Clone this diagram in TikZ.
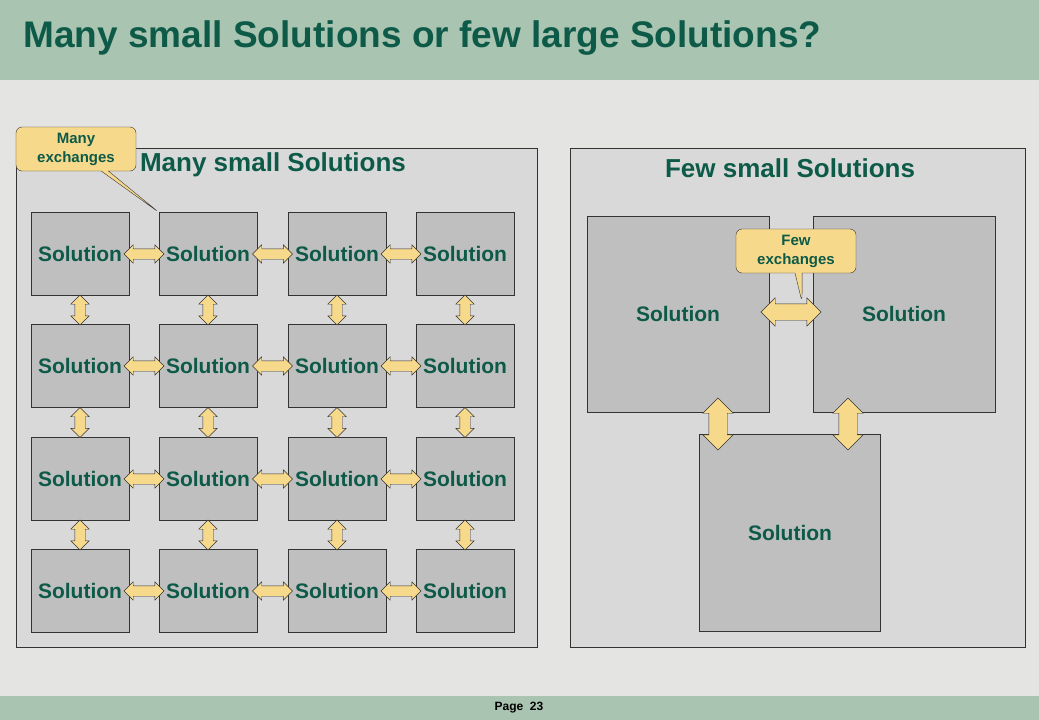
\documentclass[tikz,border=0pt]{standalone}
\usepackage{fontspec}
\setmainfont{Liberation Sans}
\usetikzlibrary{positioning, calc, shapes.arrows, shapes.callouts}
\definecolor{bargreen}{HTML}{A9C4B0}
\definecolor{txtgreen}{HTML}{0E5A48}
\definecolor{panelgray}{HTML}{D9D9D9}
\definecolor{boxgray}{HTML}{BFBFBF}
\definecolor{arrowyellow}{HTML}{F7D98B}
\definecolor{bggray}{HTML}{E4E4E2}
\tikzset{
  solbox/.style = {rectangle, draw=black!80, fill=boxgray, text=txtgreen, font=\bfseries\fontsize{21}{24}\selectfont, inner sep=0pt},
  hx/.style = {double arrow, draw=black!80, fill=arrowyellow, minimum height=40pt, double arrow head extend=4pt, inner sep=5pt},
  vx/.style = {hx, shape border rotate=90, minimum height=30pt},
  bubble/.style = {rectangle callout, draw=black!80, fill=arrowyellow, rounded corners=6pt, text=txtgreen, align=center,
        font=\bfseries\fontsize{15}{19}\selectfont, minimum width=120pt, minimum height=44pt, inner sep=2pt},
}
\begin{document}
\begin{tikzpicture}[x=1pt, y=-1pt]
  \fill[bggray] (0,0) rectangle (1039,720);
  \useasboundingbox (0,0) rectangle (1039,720);
  % title and footer bars
  \fill[bargreen] (0,0) rectangle (1039,80);
  \fill[bargreen] (0,696) rectangle (1039,720);
  \node[anchor=west, text=txtgreen, font=\bfseries\fontsize{37}{40}\selectfont] (title) at (20,38) {Many small Solutions or few large Solutions?};
  \node[font=\bfseries\fontsize{12}{14}\selectfont] (page) at (519,708) {Page\ \ 23};

  % left panel
  \draw[black!80, fill=panelgray] (16,148) rectangle (537,647);
  \node[text=txtgreen, font=\bfseries\fontsize{26}{30}\selectfont] (lhead) at (273,165) {Many small Solutions};
  \foreach \c/\x in {1/80,2/208,3/337,4/465}{
    \foreach \r/\y in {1/254,2/366,3/479,4/591}{
      \node[solbox, minimum width=98pt, minimum height=83pt] (s\r\c) at (\x,\y) {Solution};
    }
  }
  \foreach \r in {1,...,4}{
    \foreach \c/\d in {1/2,2/3,3/4}{
      \node[hx] at ($(s\r\c.east)!0.5!(s\r\d.west)$) {};
    }
  }
  \foreach \c in {1,...,4}{
    \foreach \r/\q in {1/2,2/3,3/4}{
      \node[vx] at ($(s\r\c.south)!0.5!(s\q\c.north)$) {};
    }
  }
  \node[bubble, callout absolute pointer={(s12.north west)}] (many) at (76,149) {Many\\exchanges};

  % right panel
  \draw[black!80, fill=panelgray] (570,148) rectangle (1025,647);
  \node[text=txtgreen, font=\bfseries\fontsize{26}{30}\selectfont] (rhead) at (790,168) {Few small Solutions};
  \node[solbox, minimum width=182pt, minimum height=196pt] (ra) at (678,314) {Solution};
  \node[solbox, minimum width=182pt, minimum height=196pt] (rb) at (904,314) {Solution};
  \node[solbox, minimum width=181pt, minimum height=197pt] (rc) at (790,533) {Solution};
  \node[hx, minimum height=60pt, inner sep=8pt, double arrow head extend=6pt] (abx) at ($(ra.east)!0.5!(rb.west)+(0,-2)$) {};
  \node[vx, minimum height=52pt, inner sep=9pt, double arrow head extend=6pt] at (718,424) {};
  \node[vx, minimum height=52pt, inner sep=9pt, double arrow head extend=6pt] at (848,424) {};
  \node[bubble, callout absolute pointer={(802,302)}] (few) at (796,251) {Few\\exchanges};
\end{tikzpicture}
\end{document}
